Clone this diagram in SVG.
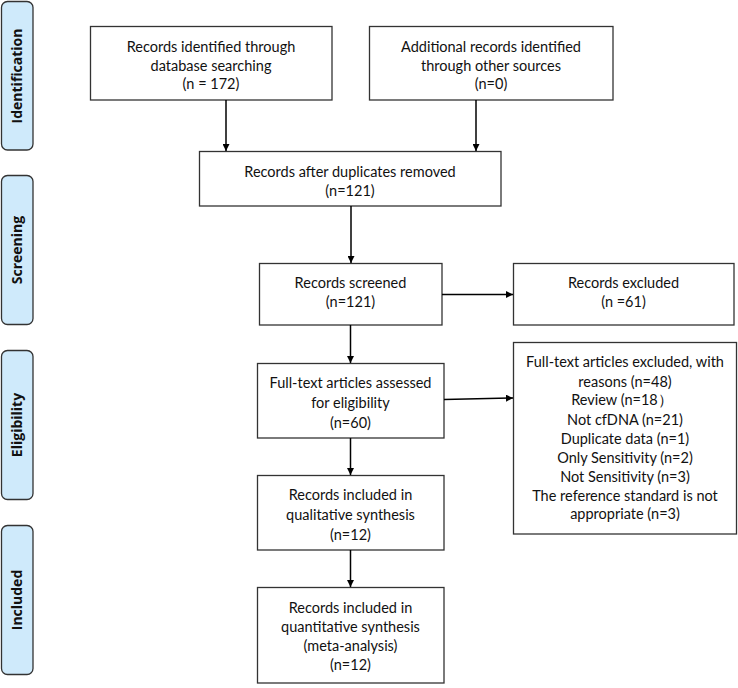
<svg xmlns="http://www.w3.org/2000/svg" width="738" height="688" viewBox="0 0 738 688">
<style>
.box{fill:#fff;stroke:#333;stroke-width:1.3}
.side{fill:#cfeafb;stroke:#333;stroke-width:1.3}
.t{font-family:Lato,"Liberation Sans",sans-serif;font-size:14.5px;fill:#111;text-anchor:middle}
.s{font-family:"Open Sans","Liberation Sans",sans-serif;font-size:14px;font-weight:bold;fill:#111;text-anchor:middle}
.c{stroke:#000;stroke-width:1.5;fill:none;marker-end:url(#ah)}
</style>
<defs>
<marker id="ah" viewBox="0 0 10 10" refX="10" refY="5" markerWidth="7" markerHeight="7" markerUnits="userSpaceOnUse" orient="auto">
<path d="M0,0 L10,5 L0,10 z" fill="#000"/>
</marker>
</defs>
<g id="side-identification"><rect class="side" x="1.5" y="1.5" width="31.5" height="148.5" rx="6"/><text class="s" transform="translate(22,76) rotate(-90)">Identification</text></g>
<g id="side-screening"><rect class="side" x="1.5" y="175.5" width="31.5" height="149" rx="6"/><text class="s" transform="translate(22,250) rotate(-90)">Screening</text></g>
<g id="side-eligibility"><rect class="side" x="1.5" y="350.5" width="31.5" height="149" rx="6"/><text class="s" transform="translate(22,425) rotate(-90)">Eligibility</text></g>
<g id="side-included"><rect class="side" x="1.5" y="525.5" width="31.5" height="149" rx="6"/><text class="s" transform="translate(22,600) rotate(-90)">Included</text></g>

<g id="n-db"><rect class="box" x="90.5" y="26.5" width="241.5" height="73.5"/>
<text class="t" x="211" y="52">Records identified through</text>
<text class="t" x="211" y="70.5">database searching</text>
<text class="t" x="211" y="89">(n = 172)</text></g>

<g id="n-other"><rect class="box" x="369.5" y="26.5" width="243.5" height="73.5"/>
<text class="t" x="491" y="52">Additional records identified</text>
<text class="t" x="491" y="70.5">through other sources</text>
<text class="t" x="491" y="89">(n=0)</text></g>

<g id="n-dup"><rect class="box" x="199.5" y="151.5" width="301.5" height="54.5"/>
<text class="t" x="350" y="177">Records after duplicates removed</text>
<text class="t" x="350" y="196">(n=121)</text></g>

<g id="n-screened"><rect class="box" x="259.5" y="263.5" width="182.5" height="61.5"/>
<text class="t" x="350.5" y="288">Records screened</text>
<text class="t" x="350.5" y="307">(n=121)</text></g>

<g id="n-excluded"><rect class="box" x="513.5" y="263.5" width="220.5" height="61.5"/>
<text class="t" x="623.5" y="288">Records excluded</text>
<text class="t" x="623.5" y="307">(n =61)</text></g>

<g id="n-fulltext"><rect class="box" x="257.5" y="363.5" width="186.5" height="74.5"/>
<text class="t" x="350.5" y="388">Full-text articles assessed</text>
<text class="t" x="350.5" y="408">for eligibility</text>
<text class="t" x="350.5" y="428">(n=60)</text></g>

<g id="n-ftexcluded"><rect class="box" x="513.5" y="342.5" width="223" height="191.5"/>
<text class="t" x="625" y="367">Full-text articles excluded, with</text>
<text class="t" x="625" y="386.5">reasons (n=48)</text>
<text class="t" x="622" y="405">Review (n=18）</text>
<text class="t" x="625" y="424.5">Not cfDNA (n=21)</text>
<text class="t" x="625" y="443.5">Duplicate data (n=1)</text>
<text class="t" x="625" y="462.5">Only Sensitivity (n=2)</text>
<text class="t" x="625" y="481.5">Not Sensitivity (n=3)</text>
<text class="t" x="625" y="500.5">The reference standard is not</text>
<text class="t" x="625" y="519">appropriate (n=3)</text></g>

<g id="n-qual"><rect class="box" x="257.5" y="475.5" width="186.5" height="74.5"/>
<text class="t" x="350.5" y="500">Records included in</text>
<text class="t" x="350.5" y="520">qualitative synthesis</text>
<text class="t" x="350.5" y="540">(n=12)</text></g>

<g id="n-quant"><rect class="box" x="257.5" y="587.5" width="186.5" height="95.5"/>
<text class="t" x="350.5" y="613">Records included in</text>
<text class="t" x="350.5" y="632">quantitative synthesis</text>
<text class="t" x="350.5" y="651">(meta-analysis)</text>
<text class="t" x="350.5" y="670">(n=12)</text></g>

<g id="connectors">
<line class="c" x1="226" y1="100" x2="226" y2="151"/>
<line class="c" x1="476" y1="100" x2="476" y2="151"/>
<line class="c" x1="351" y1="206" x2="351" y2="263"/>
<line class="c" x1="442" y1="294.5" x2="513" y2="294.5"/>
<line class="c" x1="350.5" y1="325" x2="350.5" y2="363"/>
<line class="c" x1="444" y1="399.5" x2="513" y2="398"/>
<line class="c" x1="350.5" y1="438" x2="350.5" y2="475"/>
<line class="c" x1="350.5" y1="550" x2="350.5" y2="587"/>
</g>
</svg>
